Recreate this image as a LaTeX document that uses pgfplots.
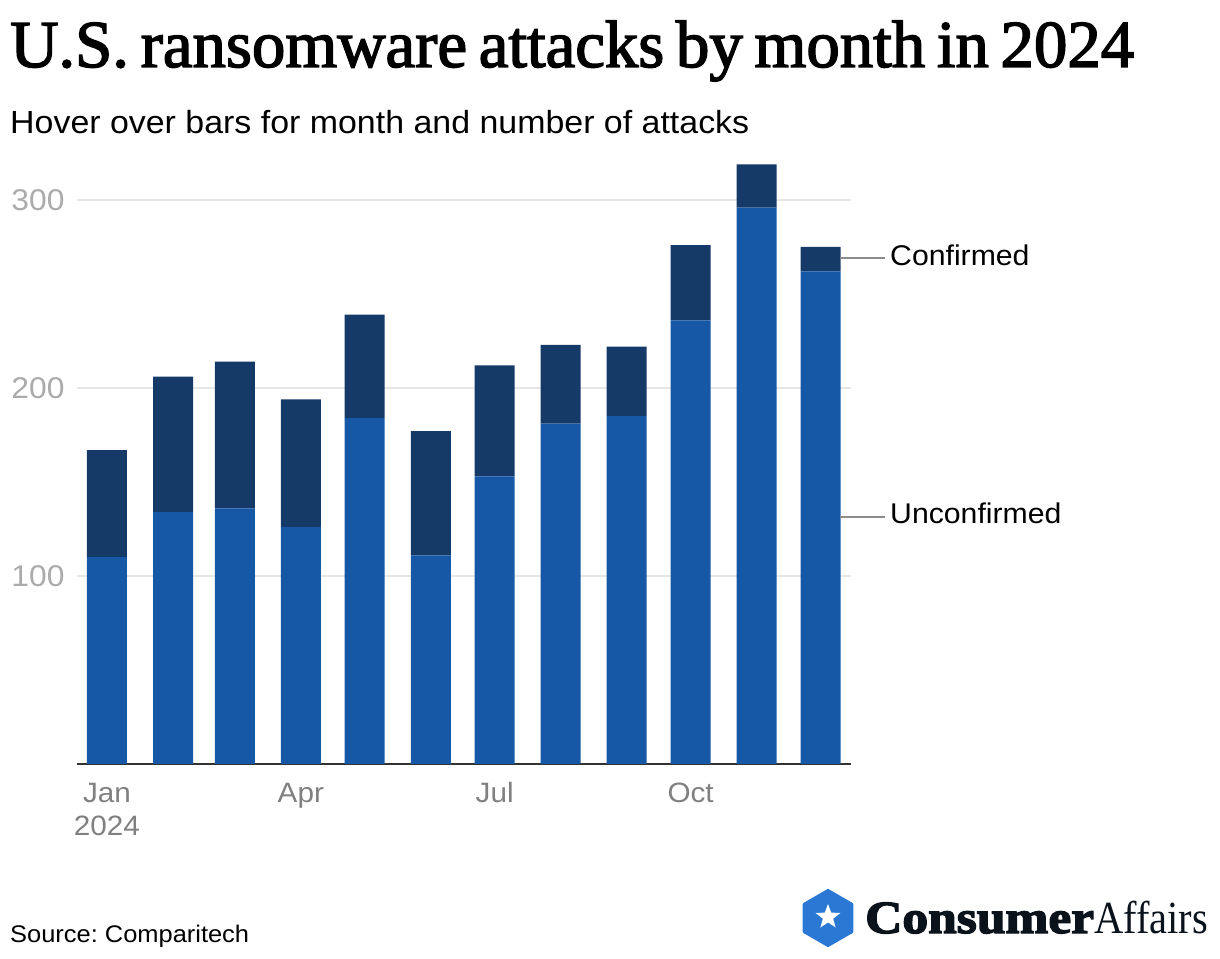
\documentclass[border=0pt]{standalone}
\usepackage{fontspec}
\setmainfont{Liberation Sans}[FakeStretch=1.06]
\newfontfamily\titlefont{Liberation Serif}[FakeBold=2.2,FakeStretch=0.997,WordSpace=0.7]
\newfontfamily\fatfont{Liberation Serif Bold}[FakeBold=3,FakeStretch=1.12]
\newfontfamily\lightfont{Liberation Serif}[FakeStretch=0.88]
\usepackage{pgfplots}
\pgfplotsset{compat=1.18}
\usepackage{pgfplotstable}
\usetikzlibrary{shapes.geometric}
\definecolor{unconf}{HTML}{1658A6}
\definecolor{conf}{HTML}{153A68}
\definecolor{gridc}{HTML}{E6E6E6}
\definecolor{ylab}{HTML}{ABABAB}
\definecolor{xlab}{HTML}{808080}
\definecolor{logoblue}{HTML}{2A78D4}
\definecolor{logoink}{HTML}{0A121C}

% x = days since the Jan bar, the time axis has uneven month lengths
\pgfplotstableread{
day unconfirmed confirmed
0   110 57
31  134 72
60  136 78
91  126 68
121 184 55
152 111 66
182 153 59
213 181 42
244 185 37
274 236 40
305 296 23
335 262 13
}\attacks

\newcommand{\tl}{\rule{0pt}{21pt}}

\begin{document}
\frenchspacing
\begin{tikzpicture}[x=1pt,y=1pt]
\path[use as bounding box] (0,0) rectangle (1220,958);

\begin{axis}[
    at={(77pt,194pt)}, anchor=south west,
    scale only axis, width=774pt, height=601.6pt,
    ybar stacked, bar width=40pt,
    xmin=-14.08, xmax=349.3, ymin=0, ymax=320,
    clip=false,
    axis x line*=bottom, axis y line*=left,
    x axis line style={draw=black!80, line width=2pt, -},
    y axis line style={draw=none},
    major tick length=0pt,
    ymajorgrids, grid style={draw=gridc, line width=2pt},
    ytick={100,200,300},
    xtick={0,91,182,274},
    xticklabels={{\tl Jan\\2024},{\tl Apr},{\tl Jul},{\tl Oct}},
    /pgf/number format/assume math mode=true,
    y tick label style={font=\fontsize{30}{30}\selectfont, text=ylab, anchor=east, xshift=-9pt},
    x tick label style={font=\fontsize{28}{33}\selectfont, text=xlab, align=center, anchor=north, yshift=-14pt},
]
\addplot[fill=unconf, draw=none] table[x=day, y=unconfirmed] {\attacks};
\addplot[fill=conf, draw=none] table[x=day, y=confirmed] {\attacks};
\end{axis}

% headings
\node[anchor=base west, inner sep=0pt, font=\titlefont\fontsize{67}{67}\selectfont] at (10,958-67) {U.S. ransomware attacks by month in 2024};
\node[anchor=base west, inner sep=0pt, font=\fontsize{32}{32}\selectfont] at (10,958-134) {Hover over bars for month and number of attacks};
\node[anchor=base west, inner sep=0pt, font=\fontsize{24}{24}\selectfont] at (10,958-942) {Source: Comparitech};

% direct labels
\draw[draw=black!45, line width=2pt] (840,958-258) -- (885,958-258);
\draw[draw=black!45, line width=2pt] (840,958-517) -- (885,958-517);
\node[anchor=base west, inner sep=0pt, font=\fontsize{28.5}{28.5}\selectfont] at (890,958-266) {Confirmed};
\node[anchor=base west, inner sep=0pt, font=\fontsize{28.5}{28.5}\selectfont] at (890,958-524) {Unconfirmed};

% logo
\node[regular polygon, regular polygon sides=6, shape border rotate=30, fill=logoblue, draw=logoblue, line join=round, line width=3pt, minimum size=55pt, inner sep=0pt] at (828,958-918) {};
\node[star, star points=5, star point ratio=2.4, fill=white, minimum size=26pt, inner sep=0pt] at (828,958-917) {};
\node[anchor=base west, inner sep=0pt, text=logoink] at (865,958-933) {{\fatfont\fontsize{46}{46}\selectfont Consumer}{\lightfont\fontsize{46}{46}\selectfont Affairs}};
\end{tikzpicture}
\end{document}
